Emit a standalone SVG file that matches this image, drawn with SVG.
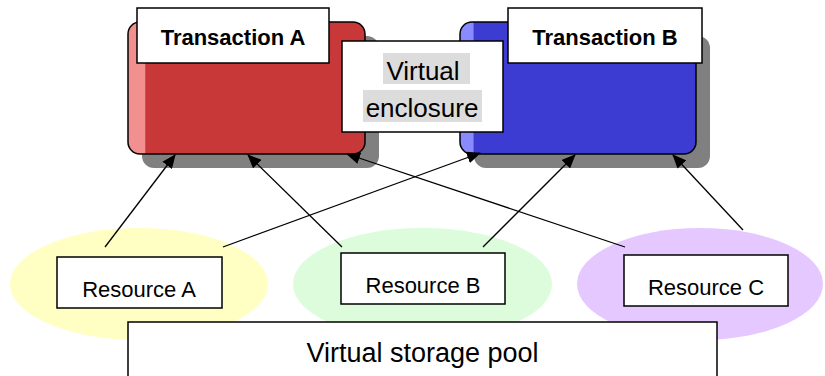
<svg xmlns="http://www.w3.org/2000/svg" width="825" height="376" viewBox="0 0 825 376">
<style>
.box{fill:#fff;stroke:#000;stroke-width:1.5}
.shadow{fill:#808080}
.tx{stroke:#000;stroke-width:1.5}
.lbl{font-family:"Liberation Sans",Arial,sans-serif;fill:#000;text-anchor:middle}
.bold{font-weight:bold;font-size:22px}
.res{font-size:22px}
.conn{stroke:#000;stroke-width:1.3;fill:none;marker-end:url(#arr)}
.hl{fill:#dcdcdc}
</style>
<defs>
<marker id="arr" markerUnits="userSpaceOnUse" markerWidth="14" markerHeight="12" refX="13" refY="6" orient="auto">
<path d="M0,0 L14,6 L0,12 z" fill="#000"/>
</marker>
<linearGradient id="red" x1="0" y1="0" x2="1" y2="0">
<stop offset="0" stop-color="#f29090"/>
<stop offset="0.07" stop-color="#f29090"/>
<stop offset="0.075" stop-color="#c83838"/>
<stop offset="1" stop-color="#c83838"/>
</linearGradient>
<linearGradient id="blue" x1="0" y1="0" x2="1" y2="0">
<stop offset="0" stop-color="#8a8aff"/>
<stop offset="0.055" stop-color="#8a8aff"/>
<stop offset="0.06" stop-color="#3c3cd2"/>
<stop offset="1" stop-color="#3c3cd2"/>
</linearGradient>
</defs>

<g id="ellipses">
<ellipse cx="139" cy="284" rx="129" ry="56" fill="#ffffc4"/>
<ellipse cx="422.5" cy="284" rx="129.5" ry="56" fill="#dcfcdc"/>
<ellipse cx="700" cy="284" rx="123" ry="56" fill="#e4c8ff"/>
</g>

<g id="transaction-a">
<rect x="142" y="36" width="237" height="132" rx="12" class="shadow"/>
<rect x="128" y="22" width="237" height="132" rx="12" fill="url(#red)" class="tx"/>
<rect x="137" y="8" width="192" height="55" class="box"/>
<text x="233" y="45" class="lbl bold">Transaction A</text>
</g>

<g id="transaction-b">
<rect x="474" y="36" width="236" height="132" rx="12" class="shadow"/>
<rect x="460" y="22" width="236" height="132" rx="12" fill="url(#blue)" class="tx"/>
<rect x="508" y="8" width="194" height="55" class="box"/>
<text x="605" y="45" class="lbl bold">Transaction B</text>
</g>

<g id="connectors">
<line x1="105" y1="247" x2="175" y2="155" class="conn"/>
<line x1="223" y1="247" x2="480" y2="153" class="conn"/>
<line x1="342" y1="247" x2="248" y2="155" class="conn"/>
<line x1="483" y1="247" x2="575" y2="155" class="conn"/>
<line x1="625" y1="247" x2="347" y2="154" class="conn"/>
<line x1="743" y1="230" x2="673" y2="155" class="conn"/>
</g>

<g id="virtual-enclosure">
<rect x="342" y="41" width="161" height="91" class="box"/>
<rect x="383" y="53" width="87" height="31" class="hl"/>
<rect x="363" y="90" width="119" height="32" class="hl"/>
<text x="423" y="80" class="lbl" font-size="26">Virtual</text>
<text x="422" y="117" class="lbl" font-size="26">enclosure</text>
</g>

<g id="resource-a">
<rect x="57" y="257" width="165" height="51" class="box"/>
<text x="139" y="297" class="lbl res">Resource A</text>
</g>
<g id="resource-b">
<rect x="341" y="253" width="164" height="51" class="box"/>
<text x="423" y="293" class="lbl res">Resource B</text>
</g>
<g id="resource-c">
<rect x="624" y="255" width="164" height="51" class="box"/>
<text x="706" y="295" class="lbl res">Resource C</text>
</g>

<g id="storage-pool">
<rect x="128" y="322" width="589" height="60" class="box"/>
<text x="422.5" y="362" class="lbl" font-size="27">Virtual storage pool</text>
</g>
</svg>
